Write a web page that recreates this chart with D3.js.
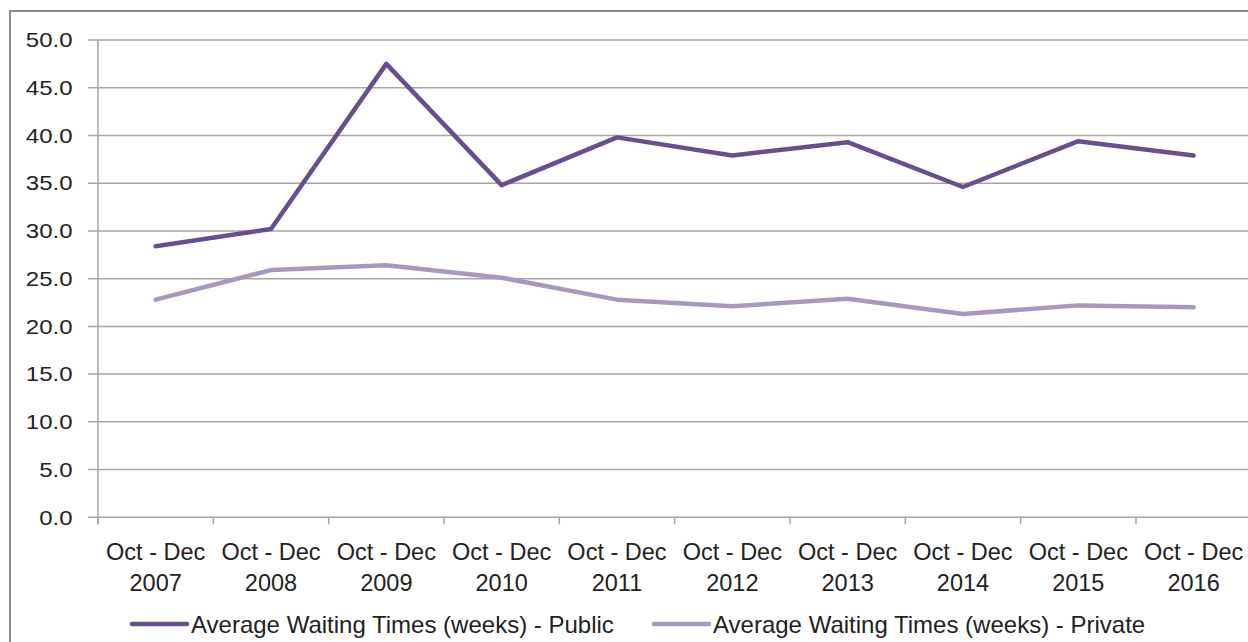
<!DOCTYPE html>
<html>
<head>
<meta charset="utf-8">
<script src="https://cdn.jsdelivr.net/npm/d3@7"></script>
<style>
  body { margin: 0; background: #fff; }
  svg { display: block; font-family: 'Liberation Sans', Arial, sans-serif; }
</style>
</head>
<body>
<svg id="chart" width="1248" height="642"></svg>
<script>
const categories = ['Oct - Dec 2007', 'Oct - Dec 2008', 'Oct - Dec 2009', 'Oct - Dec 2010', 'Oct - Dec 2011',
  'Oct - Dec 2012', 'Oct - Dec 2013', 'Oct - Dec 2014', 'Oct - Dec 2015', 'Oct - Dec 2016']
const publicWeeks = [28.4, 30.2, 47.5, 34.8, 39.8, 37.9, 39.3, 34.6, 39.4, 37.9]
const privateWeeks = [22.8, 25.9, 26.4, 25.1, 22.8, 22.1, 22.9, 21.3, 22.2, 22.0]
const yTicks = [0, 5, 10, 15, 20, 25, 30, 35, 40, 45, 50]
const seriesNames = ['Average Waiting Times (weeks) - Public', 'Average Waiting Times (weeks) - Private']
const seriesColors = ['#674f8f', '#a897c1']

const svg = d3.select('#chart')
const gridColor = '#a6a6a6'

// outer chart frame, runs off the right and bottom edges like the source
svg.append('rect')
  .attr('x', 10).attr('y', 11)
  .attr('width', 1260).attr('height', 660)
  .attr('fill', 'none')
  .attr('stroke', '#8a8a8a')
  .attr('stroke-width', 2)

const x = d3.scaleBand().domain(categories).range([98, 1251.3])
const y = d3.scaleLinear().domain([0, 50]).range([517.3, 40])
const xMid = (c) => x(c) + x.bandwidth() / 2

// horizontal gridlines + left ticks
svg.append('g')
  .selectAll('line')
  .data(yTicks)
  .join('line')
  .attr('x1', 88)
  .attr('x2', x.range()[1])
  .attr('y1', (d) => y(d))
  .attr('y2', (d) => y(d))
  .attr('stroke', gridColor)
  .attr('stroke-width', 1.5)

// y labels, a bit wider than the font's natural shape
const yStretch = 1.2
svg.append('g')
  .selectAll('text')
  .data(yTicks)
  .join('text')
  .attr('transform', (d) => `translate(72.5, ${y(d)}) scale(${yStretch}, 1)`)
  .attr('text-anchor', 'end')
  .attr('dy', '0.36em')
  .attr('font-size', 20)
  .attr('fill', '#222')
  .text((d) => d3.format('.1f')(d))

// y axis line
svg.append('line')
  .attr('x1', 98).attr('x2', 98)
  .attr('y1', y(50)).attr('y2', y(0) + 7)
  .attr('stroke', gridColor)
  .attr('stroke-width', 1.5)

// x category ticks at band edges
const edges = categories.map((c) => x(c)).concat([x.range()[1]])
svg.append('g')
  .selectAll('line')
  .data(edges)
  .join('line')
  .attr('x1', (d) => d).attr('x2', (d) => d)
  .attr('y1', y(0)).attr('y2', y(0) + 7)
  .attr('stroke', gridColor)
  .attr('stroke-width', 1.5)

// two-line category labels
const xLabels = svg.append('g')
  .selectAll('text')
  .data(categories)
  .join('text')
  .attr('text-anchor', 'middle')
  .attr('font-size', 23.5)
  .attr('fill', '#222')

xLabels.append('tspan')
  .attr('x', (d) => xMid(d))
  .attr('y', 560)
  .text((d) => d.slice(0, d.lastIndexOf(' ')))

xLabels.append('tspan')
  .attr('x', (d) => xMid(d))
  .attr('y', 591)
  .text((d) => d.slice(d.lastIndexOf(' ') + 1))

// data lines
const line = d3.line()
  .x((d, i) => xMid(categories[i]))
  .y((d) => y(d))

;[publicWeeks, privateWeeks].forEach((values, i) => {
  svg.append('path')
    .datum(values)
    .attr('d', line)
    .attr('fill', 'none')
    .attr('stroke', seriesColors[i])
    .attr('stroke-width', 4.5)
    .attr('stroke-linejoin', 'round')
    .attr('stroke-linecap', 'round')
})

// legend
const legendX = [132, 654]
const legend = svg.append('g')
  .selectAll('g')
  .data(seriesNames)
  .join('g')
  .attr('transform', (d, i) => `translate(${legendX[i]}, 624)`)

legend.append('line')
  .attr('x1', 0).attr('x2', 55)
  .attr('stroke', (d, i) => seriesColors[i])
  .attr('stroke-width', 4.5)
  .attr('stroke-linecap', 'round')

legend.append('text')
  .attr('x', 59)
  .attr('dy', '0.36em')
  .attr('font-size', 24)
  .attr('fill', '#222')
  .text((d) => d)
</script>
</body>
</html>
